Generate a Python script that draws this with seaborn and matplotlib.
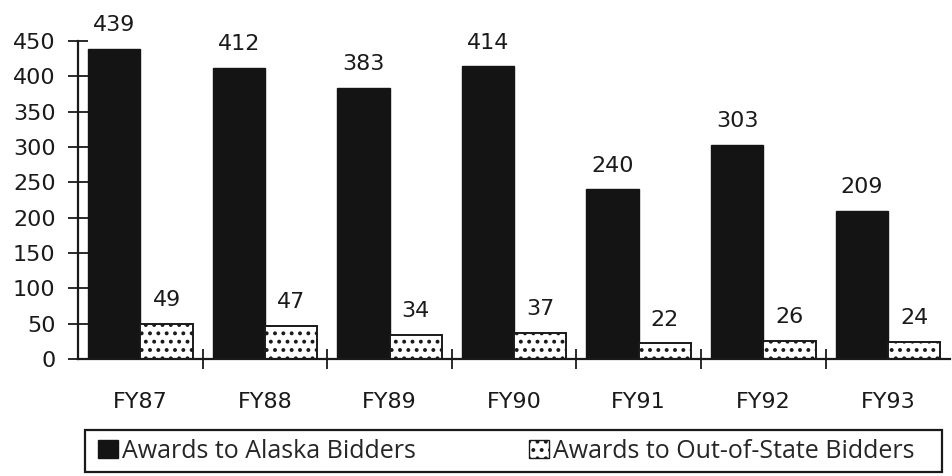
import matplotlib
matplotlib.use("Agg")
import matplotlib.pyplot as plt
import pandas as pd
import seaborn as sns
from matplotlib.patches import Rectangle
from matplotlib.ticker import FixedLocator

years = ["FY87", "FY88", "FY89", "FY90", "FY91", "FY92", "FY93"]
alaska = [439, 412, 383, 414, 240, 303, 209]
out_of_state = [49, 47, 34, 37, 22, 26, 24]
series_names = ["Awards to Alaska Bidders", "Awards to Out-of-State Bidders"]

df = pd.DataFrame(
    {
        "year": years * 2,
        "awards": alaska + out_of_state,
        "group": [series_names[0]] * len(years) + [series_names[1]] * len(years),
    }
)

sns.set_theme(style="ticks")
plt.rcParams["font.family"] = ["DejaVu Sans"]
plt.rcParams["hatch.linewidth"] = 1.6
ink = "#1a1a1a"

fig = plt.figure(figsize=(9.53, 4.76), dpi=100)
ax = fig.add_axes([0.082, 0.2458, 0.915, 0.668])

sns.barplot(
    data=df,
    x="year",
    y="awards",
    hue="group",
    palette=["#141414", "white"],
    width=0.84,
    gap=0.0,
    saturation=1,
    legend=False,
    ax=ax,
)

dark, light = ax.containers
for bar in dark:
    bar.set_edgecolor("#141414")
for bar in light:
    bar.set_hatch("..")
    bar.set_edgecolor(ink)
    bar.set_linewidth(1.4)

for cont in ax.containers:
    ax.bar_label(cont, padding=10, fontsize=16, color=ink)

ax.set_xlim(-0.5, len(years) - 0.5)
ax.set_ylim(0, 450)
ax.set_yticks(range(0, 451, 50))
ax.tick_params(axis="y", direction="inout", length=14.4, width=1.3, labelsize=16, pad=9, colors=ink)
ax.tick_params(axis="x", which="major", length=0, labelsize=16, pad=24, colors=ink)
ax.xaxis.set_minor_locator(FixedLocator([i + 0.5 for i in range(len(years) - 1)]))
ax.tick_params(axis="x", which="minor", direction="inout", length=14.4, width=1.3, color=ink)
ax.set_xlabel("")
ax.set_ylabel("")
sns.despine(ax=ax)
for side in ["left", "bottom"]:
    ax.spines[side].set_linewidth(1.6)
    ax.spines[side].set_color(ink)

# legend box drawn separately so its padding can be tighter vertically
fig.patches.append(
    Rectangle(
        (0.0892, 0.0084), 0.8993, 0.0882,
        transform=fig.transFigure, facecolor="none", edgecolor=ink, linewidth=1.6,
    )
)
handles = [
    Rectangle((0, 0), 1, 1, facecolor="#141414", edgecolor="#141414"),
    Rectangle((0, 0), 1, 1, facecolor="white", edgecolor=ink, hatch=".."),
]
fig.legend(
    handles,
    series_names,
    loc="center left",
    bbox_to_anchor=(0.0892, 0.0525),
    ncol=2,
    prop={"family": "Open Sans", "size": 18},
    handlelength=0.8,
    handleheight=0.7,
    handletextpad=0.15,
    columnspacing=4.55,
    borderpad=0.52,
    borderaxespad=0,
    frameon=False,
)

fig.savefig("out.png", dpi=100)
